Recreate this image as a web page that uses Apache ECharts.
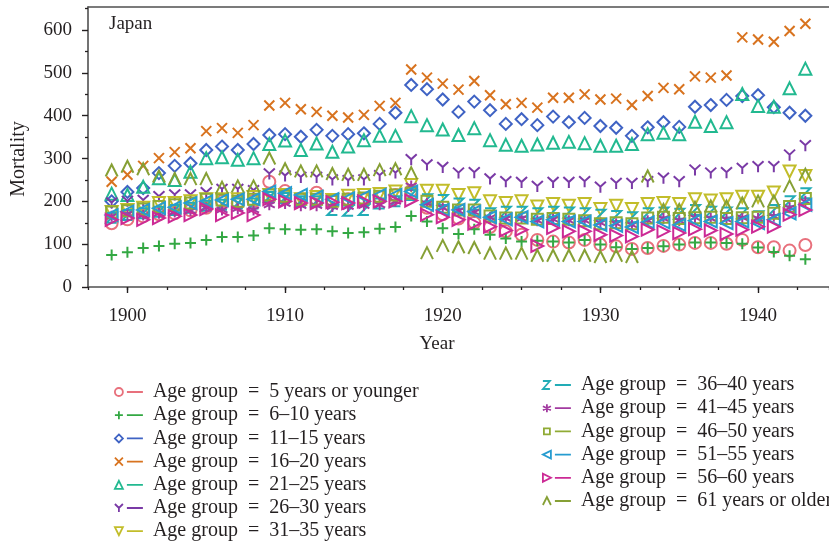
<!DOCTYPE html>
<html>
<head>
<meta charset="utf-8">
<title>Japan mortality by age group</title>
<script src="https://cdn.jsdelivr.net/npm/echarts@6/dist/echarts.min.js"></script>
<style>
    html, body { margin: 0; padding: 0; background: #fff; }
    #main { width: 829px; height: 543px; }
</style>
</head>
<body>
<div id="main"></div>
<script>
    const years = [1899, 1900, 1901, 1902, 1903, 1904, 1905, 1906, 1907, 1908,
        1909, 1910, 1911, 1912, 1913, 1914, 1915, 1916, 1917, 1918,
        1919, 1920, 1921, 1922, 1923, 1924, 1925, 1926, 1927, 1928,
        1929, 1930, 1931, 1932, 1933, 1934, 1935, 1936, 1937, 1938,
        1939, 1940, 1941, 1942, 1943];

    const xLabelYears = [1900, 1910, 1920, 1930, 1940];
    const yLabelValues = [0, 100, 200, 300, 400, 500, 600];

    const groups = [
        'Age group  =  5 years or younger',
        'Age group  =  6–10 years',
        'Age group  =  11–15 years',
        'Age group  =  16–20 years',
        'Age group  =  21–25 years',
        'Age group  =  26–30 years',
        'Age group  =  31–35 years',
        'Age group  =  36–40 years',
        'Age group  =  41–45 years',
        'Age group  =  46–50 years',
        'Age group  =  51–55 years',
        'Age group  =  56–60 years',
        'Age group  =  61 years or older'
    ];

    const age0to5 = [149, 158, 165, 170, 172, 179, 185, 200, 195, 200,
        246, 224, 205, 220, 200, 205, 205, 210, 215, 225,
        185, 170, 160, 150, 140, 130, 122, 110, 106, 104,
        110, 99, 95, 89, 91, 96, 99, 103, 103, 101,
        110, 93, 93, 85, 98];
    const age6to10 = [75, 81, 91, 96, 101, 103, 110, 117, 117, 120,
        137, 135, 134, 135, 130, 126, 128, 136, 140, 166,
        153, 137, 124, 135, 122, 113, 106, 108, 106, 104,
        110, 99, 93, 89, 91, 95, 99, 104, 104, 103,
        101, 92, 82, 73, 65];
    const age11to15 = [200, 222, 231, 266, 283, 289, 320, 328, 320, 334,
        355, 357, 351, 367, 353, 357, 359, 381, 407, 472,
        462, 438, 409, 433, 413, 381, 392, 378, 398, 385,
        395, 376, 372, 353, 373, 385, 374, 421, 425, 437,
        446, 448, 420, 407, 400];
    const age16to20 = [246, 262, 283, 301, 315, 324, 364, 371, 360, 378,
        424, 430, 415, 409, 400, 396, 402, 423, 430, 508,
        489, 475, 461, 481, 448, 427, 430, 419, 442, 442,
        450, 438, 440, 425, 446, 465, 462, 492, 489, 494,
        583, 578, 573, 598, 615];
    const age21to25 = [218, 215, 234, 254, 250, 269, 301, 303, 297, 301,
        334, 342, 320, 335, 316, 328, 343, 353, 353, 399,
        378, 368, 355, 371, 343, 332, 330, 333, 337, 339,
        336, 330, 330, 334, 357, 360, 357, 386, 376, 385,
        451, 423, 421, 464, 510];
    const age26to30 = [196, 200, 202, 211, 215, 215, 220, 228, 228, 225,
        264, 259, 256, 256, 250, 248, 250, 260, 266, 297,
        285, 279, 266, 267, 252, 246, 244, 235, 244, 244,
        246, 233, 242, 242, 246, 254, 246, 273, 266, 267,
        277, 281, 281, 308, 330];
    const age31to35 = [175, 180, 185, 196, 196, 200, 205, 205, 205, 210,
        215, 215, 205, 210, 203, 213, 215, 217, 223, 238,
        225, 225, 215, 219, 200, 196, 200, 188, 194, 190,
        194, 182, 190, 182, 194, 196, 194, 205, 202, 205,
        211, 211, 221, 270, 259];
    const age36to40 = [162, 168, 172, 176, 180, 185, 190, 192, 195, 195,
        210, 208, 200, 200, 180, 178, 180, 195, 200, 215,
        205, 203, 195, 192, 172, 176, 176, 172, 176, 174,
        172, 169, 166, 163, 172, 174, 171, 180, 176, 174,
        172, 165, 180, 200, 219];
    const age41to45 = [165, 170, 168, 172, 175, 178, 185, 180, 183, 180,
        192, 195, 190, 190, 188, 188, 190, 192, 200, 236,
        195, 185, 178, 175, 162, 160, 160, 155, 158, 155,
        155, 150, 148, 145, 155, 160, 155, 162, 160, 158,
        162, 160, 165, 185, 200];
    const age46to50 = [175, 178, 182, 188, 192, 196, 205, 203, 200, 205,
        215, 212, 205, 205, 200, 205, 208, 212, 215, 219,
        200, 186, 180, 180, 166, 161, 161, 158, 160, 158,
        155, 148, 150, 148, 161, 163, 160, 162, 163, 160,
        162, 163, 172, 188, 207];
    const age51to55 = [168, 176, 180, 184, 186, 196, 200, 203, 205, 205,
        223, 219, 215, 211, 205, 207, 211, 215, 215, 223,
        192, 180, 180, 176, 163, 158, 163, 153, 157, 153,
        153, 145, 143, 140, 151, 151, 145, 155, 153, 149,
        153, 149, 157, 172, 192];
    const age56to60 = [157, 161, 157, 161, 165, 168, 182, 168, 173, 168,
        205, 200, 196, 196, 198, 196, 200, 200, 200, 202,
        169, 163, 157, 148, 141, 132, 134, 96, 138, 130,
        130, 122, 120, 118, 134, 130, 126, 135, 132, 124,
        134, 141, 141, 169, 180];
    const age61plus = [272, 281, 275, 258, 252, 252, 252, 232, 235, 235,
        300, 275, 270, 270, 264, 262, 262, 273, 275, 266,
        79, 96, 93, 91, 78, 78, 78, 73, 73, 73,
        73, 70, 73, 70, 258, 180, 180, 185, 188, 188,
        195, 200, 200, 235, 262];

    const values = [age0to5, age6to10, age11to15, age16to20, age21to25, age26to30, age31to35,
        age36to40, age41to45, age46to50, age51to55, age56to60, age61plus];

    const colors = ['#e8707c', '#33a843', '#3f63c4', '#d8731f', '#22b990', '#7a3aa6', '#c2bd2a',
        '#22acb6', '#a23aa0', '#90ab35', '#269cd0', '#cc2a95', '#86a035'];

    // marker shapes in the plot (outlined, no fill)
    const marks = [
        'circle',
        'path://M0,5L10,5M5,0L5,10',
        'diamond',
        'path://M0,0L10,10M10,0L0,10',
        'triangle',
        'path://M0,0L5,5L10,0M5,5L5,11',
        'path://M0,0L10,0L5,9Z',
        'path://M0,0L8,0L0,10L8,10',
        'path://M5,0L5,10M0.7,2.5L9.3,7.5M9.3,2.5L0.7,7.5',
        'rect',
        'path://M9,0L9,10L0,5Z',
        'path://M0,0L0,10L9,5Z',
        'path://M0,10L5,0L10,10'
    ];
    const markSizes = [12, 11, 12, 10, 12, 11, 12, 10, 11, 11, 12, 12, 12];

    // legend icons: small marker followed by a short line
    const legendIcons = [
        'path://M4,0A4,4,0,1,1,3.99,0ZM12,4L28,4',
        'path://M0,4L8,4M4,0L4,8M12,4L28,4',
        'path://M4,0L8,4L4,8L0,4ZM12,4L28,4',
        'path://M0,0L8,8M8,0L0,8M12,4L28,4',
        'path://M4,0L8,8L0,8ZM12,4L28,4',
        'path://M0,0L4,4L8,0M4,4L4,8M12,4L28,4',
        'path://M0,0L8,0L4,8ZM12,4L28,4',
        'path://M0,0L7,0L0,8L7,8M12,4L28,4',
        'path://M4,0L4,8M0,2L8,6M8,2L0,6M12,4L28,4',
        'path://M1,1L7,1L7,7L1,7ZM0,4L0,4M12,4L28,4',
        'path://M8,0L8,8L0,4ZM12,4L28,4',
        'path://M0,0L0,8L8,4ZM12,4L28,4',
        'path://M0,8L4,0L8,8M12,4L28,4'
    ];

    const serif = '"Liberation Serif", "DejaVu Serif", serif';
    const ink = '#231f20';

    var chart = echarts.init(document.getElementById('main'));

    const series = groups.map(function (g, i) {
        return {
            name: g,
            type: 'scatter',
            data: years.map(function (y, k) { return [y, values[i][k]]; }),
            symbol: marks[i],
            symbolSize: markSizes[i],
            itemStyle: { color: 'rgba(0,0,0,0)', borderColor: colors[i], borderWidth: 2, opacity: 1 },
            silent: true
        };
    });

    function legendBlock(from, to, left, top) {
        return {
            orient: 'vertical',
            left: left,
            top: top,
            height: 162,
            padding: 0,
            itemWidth: 28,
            itemHeight: 8,
            itemGap: 3.2,
            selectedMode: false,
            itemStyle: { borderWidth: 1.8 },
            textStyle: { fontFamily: serif, fontSize: 20, color: ink, lineHeight: 20, padding: [0, 0, 0, 5] },
            data: groups.slice(from, to).map(function (g, k) {
                return { name: g, icon: legendIcons[from + k] };
            })
        };
    }

    const axisLineStyle = { color: '#505050', width: 1.6 };

    const option = {
        animation: false,
        grid: { left: 88, top: 7, right: 0, bottom: 256 },
        xAxis: [
            {
                type: 'value',
                min: 1897.5,
                max: 1944.5,
                interval: 2.5,
                position: 'bottom',
                axisLine: { show: true, lineStyle: axisLineStyle },
                axisTick: { show: true, length: 6, customValues: xLabelYears, lineStyle: { color: ink, width: 1.4 } },
                axisLabel: {
                    customValues: xLabelYears,
                    formatter: function (v) { return String(v); },
                    fontFamily: serif, fontSize: 19, color: ink, margin: 20
                },
                splitLine: { show: false }
            },
            {
                // short ticks every 2.5 years
                type: 'value',
                min: 1897.5,
                max: 1944.5,
                interval: 2.5,
                position: 'bottom',
                axisLine: { show: false },
                axisTick: { show: true, length: 3, lineStyle: { color: ink, width: 1.3 } },
                axisLabel: { show: false },
                splitLine: { show: false }
            },
            {
                // frame line on top
                type: 'value',
                min: 1897.5,
                max: 1944.5,
                position: 'top',
                axisLine: { show: true, lineStyle: axisLineStyle },
                axisTick: { show: false },
                axisLabel: { show: false },
                splitLine: { show: false }
            }
        ],
        yAxis: {
            type: 'value',
            min: 0,
            max: 654,
            interval: 100,
            axisLine: { show: true, lineStyle: axisLineStyle },
            axisTick: { show: true, length: 6, customValues: yLabelValues, lineStyle: { color: ink, width: 1.4 } },
            minorTick: { show: true, splitNumber: 2, length: 3, lineStyle: { color: ink, width: 1.3 } },
            axisLabel: { customValues: yLabelValues, fontFamily: serif, fontSize: 19, color: ink, margin: 16 },
            splitLine: { show: false }
        },
        legend: [legendBlock(0, 7, 114, 382), legendBlock(7, 13, 542, 375)],
        graphic: [
            { type: 'text', x: 109, y: 24, style: { text: 'Japan', fontFamily: serif, fontSize: 19, fill: ink, verticalAlign: 'middle' } },
            { type: 'text', x: 19, y: 159, rotation: Math.PI / 2, style: { text: 'Mortality', fontFamily: serif, fontSize: 20, fill: ink, align: 'center', verticalAlign: 'middle' } },
            { type: 'text', x: 437, y: 344, style: { text: 'Year', fontFamily: serif, fontSize: 19, fill: ink, align: 'center', verticalAlign: 'middle' } }
        ],
        series: series
    };

    chart.setOption(option);
    window.addEventListener('resize', function () {
        chart.resize();
    });
</script>
</body>
</html>
